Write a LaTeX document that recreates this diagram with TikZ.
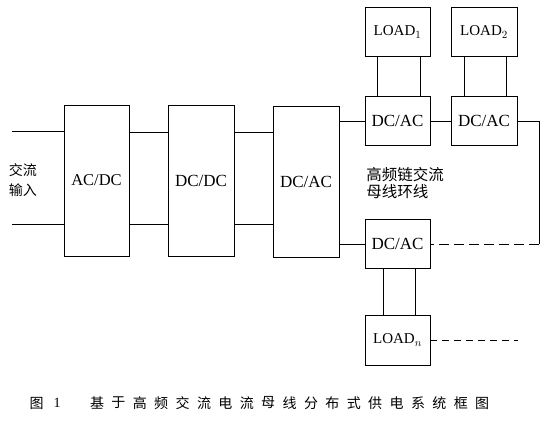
\documentclass[tikz,border=0pt]{standalone}
\usepackage{fontspec}
\setmainfont{Liberation Serif}
\newfontfamily\cjk{Noto Sans CJK SC}
\usetikzlibrary{arrows.meta, positioning, calc}

\begin{document}
\begin{tikzpicture}[x=1pt, y=-1pt, line width=0.8pt,
    box/.style={draw, minimum width=65pt, inner sep=0pt, font=\fontsize{17}{17}\selectfont},
    tall/.style={box, minimum height=151pt},
    small/.style={box, minimum height=49pt},
    loadbox/.style={small, font=\fontsize{15}{15}\selectfont},
    hz/.style={inner sep=0pt, font=\cjk\fontsize{15.5}{17}\selectfont},
    captxt/.style={inner sep=0pt, font=\cjk\fontsize{14}{14}\selectfont}]
    \useasboundingbox (0,0) rectangle (549,428);

    % 主电路
    \node[tall, font=\fontsize{16.5}{16.5}\selectfont] (acdc) at (96.5,180.5) {AC/DC};
    \node[tall, minimum width=66pt] (dcdc) at (201,181) {DC/DC};
    \node[tall, minimum width=66pt] (dcac) at (306,181.5) {DC/AC};

    % 逆变器和负载
    \node[small] (inv1) at (397.5,121) {DC/AC};
    \node[small, minimum width=66pt] (inv2) at (484,121) {DC/AC};
    \node[small] (inv3) at (397.5,244) {DC/AC};
    \node[loadbox] (load1) at (397.5,32) {LOAD$_1$};
    \node[loadbox, minimum width=66pt] (load2) at (484,32) {LOAD$_2$};
    \node[loadbox, minimum height=50pt] (loadn) at (397.5,340) {LOAD$_n$};

    % 文字
    \node[hz, font=\cjk\fontsize{14}{20}\selectfont, align=center] (src) at (23,180) {交流\\输入};
    \node[hz, align=left, anchor=west] (bus) at (366,183) {高频链交流\\母线环线};

    % 连线
    \coordinate (in1) at (12,131);
    \coordinate (in2) at (12,224);
    \coordinate (top) at (0,132);
    \coordinate (bot) at (0,224);
    \draw (in1) -- (in1 -| acdc.west);
    \draw (in2) -- (in2 -| acdc.west);
    \draw (acdc.east |- top) -- (dcdc.west |- top);
    \draw (acdc.east |- bot) -- (dcdc.west |- bot);
    \draw (dcdc.east |- top) -- (dcac.west |- top);
    \draw (dcdc.east |- bot) -- (dcac.west |- bot);
    \draw (inv1.west -| dcac.east) -- (inv1.west);
    \draw (inv3.west -| dcac.east) -- (inv3.west);
    \draw (inv1) -- (inv2);
    \foreach \u/\l/\p/\q in {load1/inv1/0.2/0.85, load2/inv2/0.21/0.83, inv3/loadn/0.28/0.77} {
        \path ($(\u.south west)!\p!(\u.south east)$) coordinate (t1)
              ($(\u.south west)!\q!(\u.south east)$) coordinate (t2);
        \draw (t1) -- (t1 |- \l.north);
        \draw (t2) -- (t2 |- \l.north);
    }

    % 环线
    \coordinate (rc) at (539,0);
    \coordinate (tail) at (518,340);
    \draw (inv2.east) -- (inv2.east -| rc) -- (inv3.east -| rc);
    \draw[dash pattern=on 10pt off 5pt] (inv3.east -| rc) -- (inv3.east);
    \draw[dash pattern=on 7pt off 5pt] (loadn.east) -- (tail);

    % 图题
    \node[captxt] (fig) at (36.5,403) {图};
    \node[inner sep=0pt, font=\fontsize{14}{14}\selectfont] (num) at (57,403) {1};
    \foreach \c [count=\i from 0] in {基,于,高,频,交,流,电,流,母,线,分,布,式,供,电,系,统,框,图}
        \node[captxt] (c\i) at (97+21.4*\i,403) {\c};
\end{tikzpicture}
\end{document}
